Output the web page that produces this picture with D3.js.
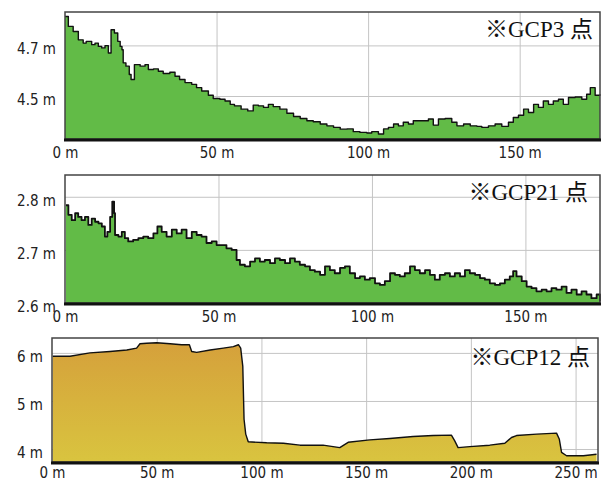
<!DOCTYPE html>
<html>
<head>
<meta charset="utf-8">
<script src="https://cdn.jsdelivr.net/npm/d3@7"></script>
<style>
  body { margin: 0; background: #fff; }
  .tick text { font-family: "Liberation Sans Narrow", "DejaVu Sans Condensed", "DejaVu Sans", sans-serif; font-stretch: condensed; font-size: 15px; fill: #222; }
  .title { font-family: "Liberation Serif", "Noto Sans CJK JP", serif; font-size: 23px; fill: #111; }
</style>
</head>
<body>
<script>
// distance (m), elevation (m)
var gcp3Profile = [
  [0,4.814],[1.1,4.775],[2.7,4.755],[4.4,4.722],[6,4.709],[7,4.716],[8.8,4.703],[9.9,4.709],
  [11,4.696],[12.1,4.69],[13.2,4.699],[14.3,4.67],[15.2,4.762],[16.3,4.749],[17.4,4.716],
  [18.2,4.696],[18.8,4.683],[19.2,4.631],[20.1,4.618],[21.2,4.585],[21.8,4.565],[22.9,4.624],
  [24.8,4.618],[26.4,4.624],[27.5,4.605],[29.2,4.607],[30.8,4.598],[32.4,4.589],[34.6,4.594],
  [36.3,4.578],[37.8,4.565],[39.6,4.553],[41.8,4.546],[43.4,4.533],[45.1,4.52],[47.3,4.503],
  [48.9,4.49],[51.1,4.487],[52.8,4.48],[54.5,4.467],[55.9,4.461],[58.1,4.448],[60.3,4.441],
  [62.1,4.464],[63.8,4.461],[65.5,4.455],[67.1,4.467],[68.7,4.458],[70.9,4.448],[73.2,4.432],
  [75.4,4.419],[77.6,4.411],[79.8,4.402],[81.9,4.398],[84.2,4.389],[86.4,4.382],[88.6,4.376],
  [90.8,4.369],[93,4.37],[95.1,4.359],[97.3,4.356],[99.6,4.354],[101.2,4.359],[103.4,4.35],
  [105.1,4.37],[106.7,4.376],[108.4,4.389],[110,4.382],[111.6,4.396],[113.3,4.389],[114.9,4.402],
  [117.7,4.402],[119.9,4.409],[121.5,4.385],[123.2,4.409],[125.4,4.411],[127.6,4.396],
  [129.3,4.382],[131.5,4.389],[133.7,4.382],[135.9,4.38],[137.5,4.376],[139.7,4.382],
  [141.9,4.389],[144.1,4.38],[146.3,4.396],[147.9,4.415],[149.6,4.424],[151.3,4.448],
  [152.9,4.435],[154.6,4.467],[156.2,4.455],[157.8,4.48],[159.5,4.467],[161.1,4.48],
  [162.8,4.487],[164.4,4.467],[166.1,4.494],[168.3,4.496],[170.5,4.487],[172.1,4.507],
  [173.3,4.533],[174.9,4.503],[176.5,4.507]
];
var gcp21Profile = [
  [0.3,2.784],[1.1,2.766],[2.2,2.756],[3.3,2.769],[4.3,2.762],[5.4,2.756],[6.5,2.762],
  [7.6,2.747],[8.7,2.759],[9.8,2.753],[10.9,2.75],[12,2.744],[13,2.725],[13.8,2.734],
  [14.7,2.762],[15.4,2.791],[16,2.769],[16.3,2.728],[17.4,2.725],[18.5,2.734],[19.5,2.722],
  [20.6,2.716],[22.2,2.719],[23.9,2.722],[25.5,2.725],[27.1,2.722],[28.8,2.731],[30.1,2.744],
  [31.5,2.734],[33.1,2.725],[34.8,2.738],[36.4,2.731],[38,2.738],[39.6,2.722],[41.3,2.734],
  [42.9,2.728],[44.5,2.725],[46.1,2.713],[47.8,2.716],[49.4,2.709],[51,2.709],[52.6,2.703],
  [54.3,2.7],[55.9,2.681],[57,2.672],[58.6,2.669],[60.3,2.678],[61.9,2.684],[63.5,2.678],
  [65.1,2.681],[66.8,2.675],[68.4,2.684],[70,2.681],[71.7,2.675],[73.3,2.684],[74.9,2.678],
  [76.5,2.672],[78.2,2.669],[79.8,2.662],[81.4,2.659],[83.1,2.653],[84.7,2.669],[86.3,2.662],
  [87.9,2.656],[89.6,2.666],[91.2,2.669],[92.8,2.656],[94.5,2.647],[96.1,2.65],[97.7,2.644],
  [99.3,2.647],[101,2.637],[102.6,2.634],[104.2,2.641],[105.9,2.656],[107.5,2.653],[109.1,2.65],
  [110.7,2.656],[112.4,2.669],[114,2.662],[115.6,2.656],[117.3,2.662],[118.9,2.653],[120.5,2.644],
  [122.1,2.653],[123.8,2.656],[125.4,2.65],[127,2.656],[128.7,2.65],[130.3,2.662],[131.9,2.656],
  [133.6,2.653],[135.2,2.647],[136.8,2.644],[138.4,2.637],[140.1,2.634],[141.7,2.637],
  [143.3,2.644],[144.9,2.65],[146,2.66],[147.1,2.65],[148.8,2.641],[150.4,2.631],[152,2.628],
  [153.6,2.622],[155.3,2.625],[156.9,2.622],[158.5,2.628],[160.1,2.625],[161.8,2.631],
  [163.4,2.619],[165,2.625],[166.7,2.616],[168.3,2.622],[169.9,2.616],[171.5,2.609],
  [173.2,2.616],[174.3,2.603]
];
var gcp12Profile = [
  [0.3,5.93],[8.6,5.93],[18.1,6.0],[27.7,6.03],[35.7,6.06],[40.4,6.1],[42,6.19],[45.2,6.2],
  [50,6.21],[56.4,6.19],[61.9,6.17],[65.6,6.17],[66.7,6.03],[69.1,6.01],[75.5,6.06],[81.8,6.1],
  [86.6,6.13],[89,6.17],[90.1,6.1],[91.1,5.72],[91.7,4.62],[92.5,4.31],[93.7,4.15],[102.5,4.13],
  [110.5,4.12],[118.4,4.08],[129.4,4.08],[137.4,4.03],[141.4,4.14],[151.7,4.19],[161.3,4.22],
  [172.4,4.26],[182,4.28],[190.7,4.29],[192.3,4.17],[193.9,4.03],[199.5,4.05],[209,4.08],
  [216.2,4.12],[219.4,4.24],[221.8,4.28],[231.4,4.31],[240.9,4.33],[242.2,4.21],[243.3,3.93],
  [245.7,3.86],[253.7,3.86],[260,3.89]
];

var gcp3XTicks = [0, 50, 100, 150], gcp3YTicks = [4.5, 4.7];
var gcp21XTicks = [0, 50, 100, 150], gcp21YTicks = [2.6, 2.7, 2.8];
var gcp12XTicks = [0, 50, 100, 150, 200, 250], gcp12YTicks = [4, 5, 6];
var titles = ["※GCP3 点", "※GCP21 点", "※GCP12 点"];

var svg = d3.select("body").append("svg")
  .attr("width", 606)
  .attr("height", 481);

var defs = svg.append("defs");
var grad = defs.append("linearGradient")
  .attr("id", "gold")
  .attr("x1", 0).attr("y1", 0).attr("x2", 0).attr("y2", 1);
grad.append("stop").attr("offset", "0%").attr("stop-color", "#d59f3b");
grad.append("stop").attr("offset", "100%").attr("stop-color", "#d9c43f");

var panels = [
  { data: gcp3Profile, xt: gcp3XTicks, yt: gcp3YTicks, xd: [0, 176.5], yd: [4.33, 4.832],
    left: 65, right: 600, top: 12, bottom: 139, fill: "#62bb47", lw: 1.4, yfmt: d3.format(".1f"),
    curve: d3.curveStepAfter, pad: 8, title: titles[0], tx: 593, ty: 37 },
  { data: gcp21Profile, xt: gcp21XTicks, yt: gcp21YTicks, xd: [0, 174.3], yd: [2.6, 2.841],
    left: 65, right: 600, top: 175, bottom: 303, fill: "#62bb47", lw: 1.8, yfmt: d3.format(".1f"),
    curve: d3.curveStepAfter, pad: 8, title: titles[1], tx: 588, ty: 200 },
  { data: gcp12Profile, xt: gcp12XTicks, yt: gcp12YTicks, xd: [0, 260.7], yd: [3.73, 6.31],
    left: 52, right: 598, top: 338, bottom: 462, fill: "url(#gold)", lw: 1.4, yfmt: d3.format("d"),
    curve: d3.curveLinear, pad: 5, title: titles[2], tx: 590, ty: 365 }
];

panels.forEach(function(p) {
  var x = d3.scaleLinear().domain(p.xd).range([p.left, p.right]);
  var y = d3.scaleLinear().domain(p.yd).range([p.bottom, p.top]);
  var w = p.right - p.left, h = p.bottom - p.top;
  var g = svg.append("g");

  g.append("rect")
    .attr("x", p.left).attr("y", p.top)
    .attr("width", w).attr("height", h)
    .attr("fill", "#fff");

  // grid
  g.append("g")
    .attr("transform", "translate(0," + p.bottom + ")")
    .call(d3.axisBottom(x).tickValues(p.xt.filter(function(d) { return d > 0; })).tickSize(-h).tickFormat(""))
    .call(function(a) { a.select(".domain").remove(); })
    .selectAll("line").attr("stroke", "#c4c4c4");
  g.append("g")
    .attr("transform", "translate(" + p.left + ",0)")
    .call(d3.axisLeft(y).tickValues(p.yt).tickSize(-w).tickFormat(""))
    .call(function(a) { a.select(".domain").remove(); })
    .selectAll("line").attr("stroke", "#c4c4c4");

  var area = d3.area()
    .curve(p.curve)
    .x(function(d) { return x(d[0]); })
    .y0(p.bottom)
    .y1(function(d) { return y(d[1]); });
  var line = d3.line()
    .curve(p.curve)
    .x(function(d) { return x(d[0]); })
    .y(function(d) { return y(d[1]); });

  if (p.fill.indexOf("url") === 0) {
    grad.attr("gradientUnits", "userSpaceOnUse")
      .attr("x1", 0).attr("y1", p.top).attr("x2", 0).attr("y2", p.bottom);
  }
  g.append("path")
    .datum(p.data)
    .attr("d", area)
    .attr("fill", p.fill);
  g.append("path")
    .datum(p.data)
    .attr("d", line)
    .attr("fill", "none")
    .attr("stroke", "#111")
    .attr("stroke-width", p.lw)
    .attr("stroke-linejoin", "round");

  // frame
  g.append("rect")
    .attr("x", p.left).attr("y", p.top)
    .attr("width", w).attr("height", h)
    .attr("fill", "none")
    .attr("stroke", "#444")
    .attr("stroke-width", 1.5);
  g.append("line")
    .attr("x1", p.left - 1).attr("x2", p.right + 1)
    .attr("y1", p.bottom + 1).attr("y2", p.bottom + 1)
    .attr("stroke", "#111")
    .attr("stroke-width", 3);

  // tick labels
  g.append("g")
    .attr("transform", "translate(0," + p.bottom + ")")
    .call(d3.axisBottom(x).tickValues(p.xt).tickSize(0).tickPadding(p.pad)
      .tickFormat(function(d) { return d + " m"; }))
    .call(function(a) { a.select(".domain").remove(); });
  g.append("g")
    .attr("transform", "translate(" + (p.left - 3) + ",0)")
    .call(d3.axisLeft(y).tickValues(p.yt).tickSize(0).tickPadding(6)
      .tickFormat(function(d) { return p.yfmt(d) + " m"; }))
    .call(function(a) { a.select(".domain").remove(); })
    .selectAll("text").attr("dy", "0.55em");

  g.append("text")
    .attr("class", "title")
    .attr("x", p.tx).attr("y", p.ty)
    .attr("text-anchor", "end")
    .text(p.title);
});
</script>
</body>
</html>
